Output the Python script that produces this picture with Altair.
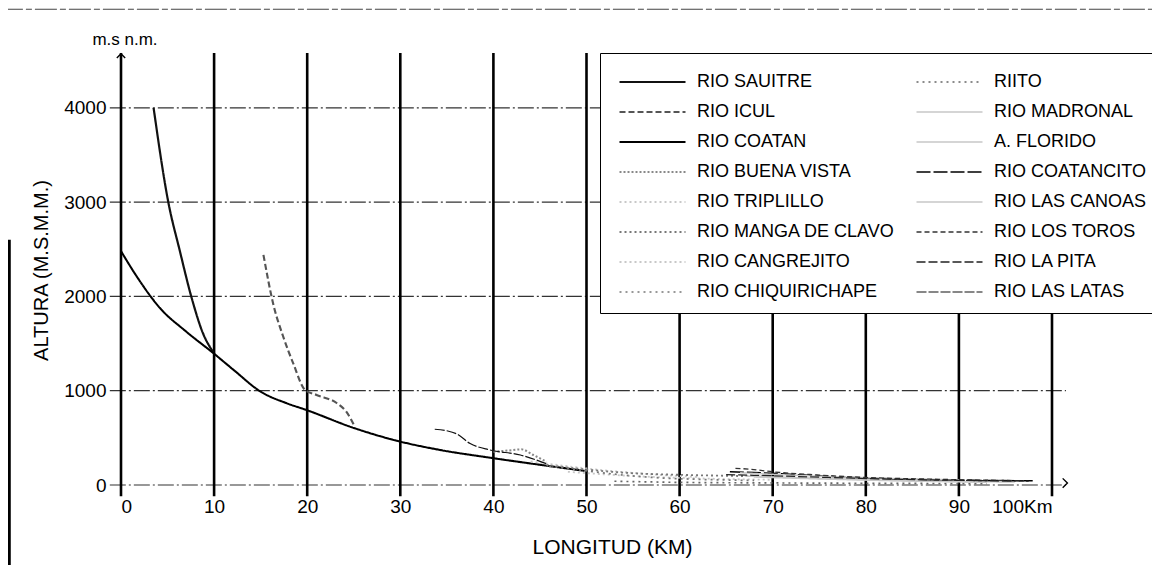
import altair as alt
import pandas as pd

# ---------------- axis ticks ----------------
X_TICKS = [0, 10, 20, 30, 40, 50, 60, 70, 80, 90, 100]
Y_TICKS = [0, 1000, 2000, 3000, 4000]

# ---------------- legend names (two columns as in the original) ----------------
LEFT_NAMES = ["RIO SAUITRE", "RIO ICUL", "RIO COATAN", "RIO BUENA VISTA",
              "RIO TRIPLILLO", "RIO MANGA DE CLAVO", "RIO CANGREJITO", "RIO CHIQUIRICHAPE"]
RIGHT_NAMES = ["RIITO", "RIO MADRONAL", "A. FLORIDO", "RIO COATANCITO",
               "RIO LAS CANOAS", "RIO LOS TOROS", "RIO LA PITA", "RIO LAS LATAS"]

# ---------------- river profiles (km, m.s.n.m.) ----------------
SAUITRE_KM = [3.5, 5.1, 6.3, 7.6, 8.8, 9.9]
SAUITRE_ALT = [4000, 2990, 2490, 1980, 1610, 1410]

ICUL_KM = [15.3, 16.4, 17.4, 18.5, 19.75, 21.0, 23.2, 24.2, 25.1]
ICUL_ALT = [2440, 1900, 1580, 1290, 1010, 955, 867, 778, 620]

COATAN_KM = [0, 1.7, 4.2, 7.0, 9.9, 12.1, 15.0, 17.8, 19.9, 25.0, 29.6, 34.3, 39.6, 45.7, 49.8]
COATAN_ALT = [2480, 2210, 1875, 1627, 1400, 1220, 990, 867, 796, 605, 470, 371, 290, 205, 150]

BUENA_VISTA_KM = [40.0, 41.5, 43.0, 44.3, 45.7]
BUENA_VISTA_ALT = [353, 365, 378, 318, 247]

TRIPLILLO_KM = [44.0, 50.0, 56.0, 62.0]
TRIPLILLO_ALT = [250, 175, 120, 85]

MANGA_KM = [45.7, 49.8, 55.0, 60.0, 65.0, 69.0]
MANGA_ALT = [212, 166, 125, 108, 98, 92]

CANGREJITO_KM = [48.0, 55.0, 62.0, 70.0]
CANGREJITO_ALT = [140, 95, 70, 55]

CHIQUI_KM = [46.0, 50.0, 54.0, 58.0, 62.0, 68.0]
CHIQUI_ALT = [200, 150, 105, 75, 60, 48]

RIITO_KM = [53.0, 60.0, 70.0, 80.0, 93.0]
RIITO_ALT = [40, 28, 22, 18, 15]

MADRONAL_KM = [67.0, 75.0, 85.0, 96.0]
MADRONAL_ALT = [95, 70, 45, 32]

FLORIDO_KM = [68.0, 76.0, 86.0, 93.0]
FLORIDO_ALT = [85, 62, 40, 30]

COATANCITO_KM = [65.4, 69.9, 75.0, 80.0, 88.0, 98.2]
COATANCITO_ALT = [141, 124, 98, 74, 55, 44]

CANOAS_KM = [66.5, 72.0, 80.0, 90.0]
CANOAS_ALT = [130, 105, 78, 55]

TOROS_KM = [66.0, 67.5, 70.0, 75.0, 80.0, 88.0, 97.0]
TOROS_ALT = [177, 168, 140, 105, 80, 60, 45]

PITA_KM = [65.0, 70.0, 76.0, 82.0, 90.0, 97.5]
PITA_ALT = [110, 98, 80, 64, 50, 42]

LATAS_KM = [33.7, 35.0, 36.1, 37.5, 39.6, 42.9, 45.7]
LATAS_ALT = [591, 575, 540, 440, 372, 318, 225]

CURVES = {
    "RIO SAUITRE": (SAUITRE_KM, SAUITRE_ALT),
    "RIO ICUL": (ICUL_KM, ICUL_ALT),
    "RIO COATAN": (COATAN_KM, COATAN_ALT),
    "RIO BUENA VISTA": (BUENA_VISTA_KM, BUENA_VISTA_ALT),
    "RIO TRIPLILLO": (TRIPLILLO_KM, TRIPLILLO_ALT),
    "RIO MANGA DE CLAVO": (MANGA_KM, MANGA_ALT),
    "RIO CANGREJITO": (CANGREJITO_KM, CANGREJITO_ALT),
    "RIO CHIQUIRICHAPE": (CHIQUI_KM, CHIQUI_ALT),
    "RIITO": (RIITO_KM, RIITO_ALT),
    "RIO MADRONAL": (MADRONAL_KM, MADRONAL_ALT),
    "A. FLORIDO": (FLORIDO_KM, FLORIDO_ALT),
    "RIO COATANCITO": (COATANCITO_KM, COATANCITO_ALT),
    "RIO LAS CANOAS": (CANOAS_KM, CANOAS_ALT),
    "RIO LOS TOROS": (TOROS_KM, TOROS_ALT),
    "RIO LA PITA": (PITA_KM, PITA_ALT),
    "RIO LAS LATAS": (LATAS_KM, LATAS_ALT),
}

# ---------------- styles (colour, dash, width) ----------------
FAINT = "#c8c8c8"
STYLES = {
    "RIO SAUITRE": ("#111111", [1, 0], 2.2),
    "RIO ICUL": ("#555555", [6, 3], 1.2),
    "RIO COATAN": ("#000000", [1, 0], 2.4),
    "RIO BUENA VISTA": ("#888888", [2, 2], 1.1),
    "RIO TRIPLILLO": (FAINT, [2, 3], 1.0),
    "RIO MANGA DE CLAVO": ("#777777", [2, 3], 1.1),
    "RIO CANGREJITO": (FAINT, [2, 3], 1.0),
    "RIO CHIQUIRICHAPE": ("#777777", [2, 4], 1.1),
    "RIITO": ("#666666", [2, 4], 1.1),
    "RIO MADRONAL": (FAINT, [1, 0], 1.0),
    "A. FLORIDO": (FAINT, [1, 0], 1.0),
    "RIO COATANCITO": ("#000000", [14, 3], 1.8),
    "RIO LAS CANOAS": (FAINT, [1, 0], 1.0),
    "RIO LOS TOROS": ("#333333", [5, 3], 1.3),
    "RIO LA PITA": ("#222222", [9, 3], 1.3),
    "RIO LAS LATAS": ("#111111", [10, 2], 1.3),
}

# legend fills column by column
ORDER = LEFT_NAMES + RIGHT_NAMES

rows = []
for name, (kms, alts) in CURVES.items():
    for k, a in zip(kms, alts):
        rows.append({"series": name, "km": k, "alt": a})
df = pd.DataFrame(rows)

grid_y = pd.DataFrame({"y": Y_TICKS})
grid_x = pd.DataFrame({"x": X_TICKS})
one = pd.DataFrame({"t": ["m.s n.m."]})

FONT = "Liberation Sans"

x_scale = alt.Scale(domain=[0, 100], nice=False, zero=False)
y_scale = alt.Scale(domain=[0, 4560], nice=False, zero=False)

X_AXIS = alt.Axis(
    values=X_TICKS, labelExpr="datum.value == 100 ? '100Km' : datum.label",
    title="LONGITUD (KM)", domain=False, ticks=False, grid=False,
    labelPadding=12, labelFontSize=19, labelFont=FONT, labelColor="black",
    titleFontSize=21, titleFont=FONT, titleFontWeight="normal", titleColor="black",
    titleX=491, titleY=62, titleBaseline="middle", titleAlign="center",
)
Y_AXIS = alt.Axis(
    values=Y_TICKS, format="d", title="ALTURA (M.S.M.M.)", domain=False, ticks=False, grid=False,
    labelPadding=15, labelFontSize=19, labelFont=FONT, labelColor="black",
    titleFontSize=20, titleFont=FONT, titleFontWeight="normal", titleColor="black",
    titleX=-80, titleY=215, titleAngle=270, titleBaseline="middle", titleAlign="center",
)

legend = alt.Legend(
    orient="none", legendX=479, legendY=-2, columns=2,
    symbolType="stroke", symbolSize=4356, symbolStrokeWidth=1.3, symbolOffset=12,
    labelFontSize=18, labelFont=FONT, labelColor="black", labelLimit=400,
    labelOffset=10, rowPadding=0, columnPadding=8, padding=6, clipHeight=30,
    strokeColor="black", fillColor="white",
    title=" ", titleFontSize=8, titlePadding=0,
)

# horizontal dash-dot grid lines
hgrid = alt.Chart(grid_y).mark_rule(
    color="#333333", strokeWidth=1.2, strokeDash=[16, 3, 2, 3]
).encode(
    y=alt.Y("y:Q", scale=y_scale, axis=Y_AXIS, title="ALTURA (M.S.M.M.)"),
    x=alt.datum(-1.2, scale=x_scale),
    x2=alt.datum(101.5),
)

# heavy vertical lines (axis + km grid)
vgrid = alt.Chart(grid_x).mark_rule(color="black", strokeWidth=2.6).encode(
    x=alt.X("x:Q", scale=x_scale, axis=X_AXIS, title="LONGITUD (KM)"),
    y=alt.datum(4580),
    y2=alt.datum(-120),
)

lines = alt.Chart(df).mark_line(interpolate="monotone").encode(
    x=alt.X("km:Q", scale=x_scale, axis=X_AXIS, title="LONGITUD (KM)"),
    y=alt.Y("alt:Q", scale=y_scale, axis=Y_AXIS, title="ALTURA (M.S.M.M.)"),
    color=alt.Color("series:N", scale=alt.Scale(domain=ORDER, range=[STYLES[n][0] for n in ORDER]),
                    legend=legend),
    strokeDash=alt.StrokeDash("series:N", scale=alt.Scale(domain=ORDER, range=[STYLES[n][1] for n in ORDER]),
                              legend=legend),
    strokeWidth=alt.StrokeWidth("series:N", scale=alt.Scale(domain=ORDER, range=[STYLES[n][2] for n in ORDER]),
                                legend=None),
)

unit_label = alt.Chart(one).mark_text(fontSize=17, font=FONT, color="black", dy=-15, dx=4).encode(
    x=alt.datum(0), y=alt.datum(4560), text="t:N"
)

up_arrow = alt.Chart(one).mark_point(
    shape="M-1,0.7L0,-0.3L1,0.7", filled=False, size=70, color="black", strokeWidth=1.4, opacity=1
).encode(x=alt.datum(0), y=alt.datum(4560))

right_arrow = alt.Chart(one).mark_point(
    shape="M-0.3,-1L0.7,0L-0.3,1", filled=False, size=90, color="black", strokeWidth=1.4, opacity=1
).encode(x=alt.datum(101.3), y=alt.datum(20))

left_edge = alt.Chart(one).mark_rule(color="black", strokeWidth=3).encode(
    x=alt.datum(-12.0), y=alt.datum(2600), y2=alt.datum(-960)
)

top_edge = alt.Chart(one).mark_rule(color="#444444", strokeWidth=1.2, strokeDash=[22, 3, 6, 3]).encode(
    y=alt.datum(5045), x=alt.datum(-12.9), x2=alt.datum(111.5)
)

chart = alt.layer(
    hgrid, vgrid, lines, unit_label, up_arrow, right_arrow, left_edge, top_edge
).properties(
    width=931, height=430,
    autosize=alt.AutoSizeParams(type="none"),
    padding={"left": 113, "top": 47, "right": 100, "bottom": 80},
    background="white",
).configure_view(stroke=None)

chart.save("out.html", embed_options={"renderer": "svg", "actions": False})
